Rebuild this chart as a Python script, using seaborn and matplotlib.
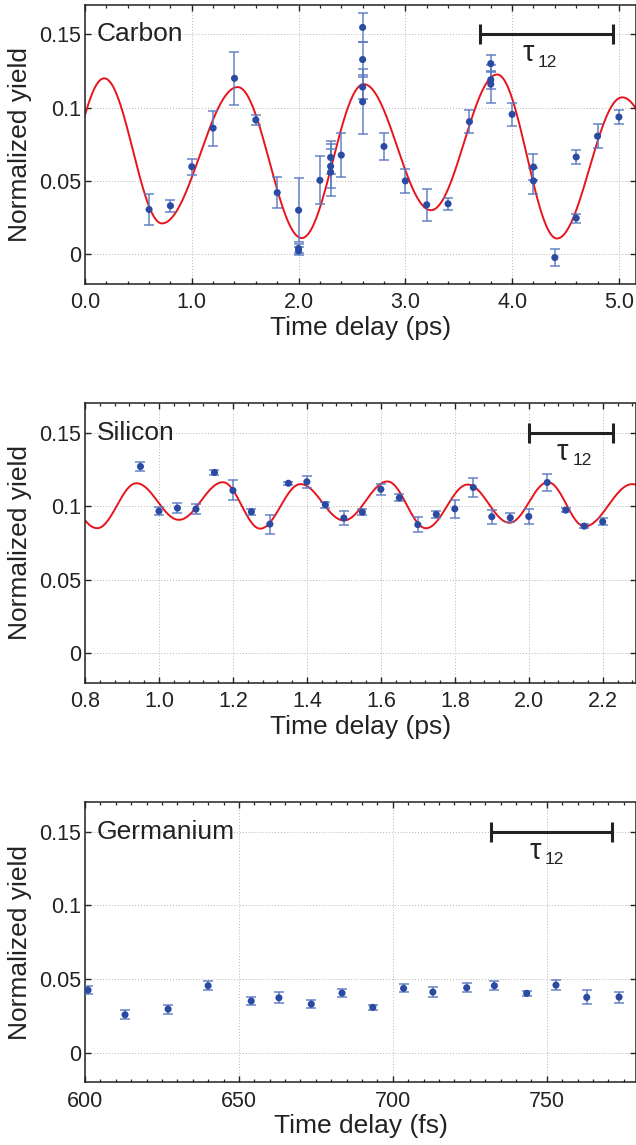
import numpy as np
import pandas as pd
import matplotlib
matplotlib.use("Agg")
import matplotlib.pyplot as plt
from matplotlib.ticker import MultipleLocator
import seaborn as sns

sns.set_theme(style="white")
plt.rcParams['font.family'] = ['Liberation Sans', 'DejaVu Sans']

#----------------------------------
# Data
#----------------------------------
# Carbon (ps)
carbon_t = [0.6, 0.8, 1.0, 1.2, 1.4, 1.6, 1.8, 2.0, 2.0, 2.0, 2.2, 2.3, 2.3, 2.3, 2.4,
            2.6, 2.6, 2.6, 2.6, 2.8, 3.0, 3.2, 3.4, 3.6, 3.8, 3.8, 3.8, 4.0, 4.2, 4.2,
            4.4, 4.6, 4.6, 4.8, 5.0]
carbon_y = [0.0305, 0.033, 0.0597, 0.086, 0.120, 0.0916, 0.042, 0.030, 0.0039, 0.0022,
            0.0504, 0.066, 0.060, 0.056, 0.0676, 0.1547, 0.1328, 0.114, 0.104, 0.0735,
            0.050, 0.0337, 0.0344, 0.0904, 0.130, 0.119, 0.116, 0.0954, 0.0595, 0.050,
            -0.0023, 0.0663, 0.0246, 0.0805, 0.0936]
carbon_err = [0.0105, 0.004, 0.0055, 0.012, 0.018, 0.0035, 0.0105, 0.022, 0.003, 0.003,
              0.0165, 0.011, 0.015, 0.016, 0.015, 0.010, 0.012, 0.008, 0.022, 0.0095,
              0.008, 0.011, 0.004, 0.008, 0.006, 0.006, 0.013, 0.008, 0.009, 0.009,
              0.0055, 0.005, 0.003, 0.008, 0.0047]
# fit curve extrema (time, value)
carbon_fit_t = [-0.36, 0.18, 0.72, 1.43, 2.03, 2.61, 3.24, 3.86, 4.42, 5.03, 5.62]
carbon_fit_y = [0.020, 0.120, 0.021, 0.114, 0.011, 0.116, 0.030, 0.1226, 0.0107, 0.107, 0.040]

# Silicon (ps)
silicon_t = [0.95, 1.0, 1.05, 1.1, 1.15, 1.2, 1.25, 1.3, 1.35, 1.4, 1.45, 1.5, 1.55,
             1.6, 1.65, 1.7, 1.75, 1.8, 1.85, 1.9, 1.95, 2.0, 2.05, 2.1, 2.15, 2.2]
silicon_y = [0.127, 0.0966, 0.0987, 0.098, 0.1229, 0.1107, 0.0962, 0.0878, 0.1156,
             0.1166, 0.101, 0.0919, 0.0959, 0.1115, 0.1057, 0.0874, 0.0944, 0.0982,
             0.1127, 0.0928, 0.0921, 0.093, 0.1161, 0.0973, 0.0864, 0.0894]
silicon_err = [0.003, 0.0027, 0.0035, 0.0034, 0.0015, 0.0068, 0.002, 0.0065, 0.001,
               0.004, 0.002, 0.0045, 0.002, 0.0036, 0.0023, 0.0053, 0.0025, 0.006,
               0.0063, 0.0048, 0.003, 0.005, 0.0057, 0.0013, 0.0012, 0.0025]
silicon_fit_t = [0.715, 0.833, 0.939, 1.054, 1.173, 1.274, 1.383, 1.50, 1.618, 1.722,
                 1.835, 1.948, 2.052, 2.151, 2.28, 2.39]
silicon_fit_y = [0.115, 0.085, 0.1156, 0.0907, 0.1163, 0.0847, 0.115, 0.0903, 0.1168,
                 0.085, 0.1147, 0.0887, 0.1163, 0.0862, 0.115, 0.090]

# Germanium (fs)
germanium_t = [601, 613, 627, 640, 654, 663, 673.5, 683.5, 693.5, 703.5, 713, 724, 733,
               743.5, 753, 763, 773.5]
germanium_y = [0.0425, 0.0258, 0.0296, 0.0455, 0.0351, 0.0373, 0.033, 0.0405, 0.0308,
               0.0437, 0.0412, 0.0441, 0.0455, 0.0403, 0.0459, 0.0376, 0.0378]
germanium_err = [0.0026, 0.003, 0.003, 0.003, 0.0025, 0.0037, 0.0025, 0.003, 0.0018,
                 0.0028, 0.0034, 0.003, 0.003, 0.0019, 0.0035, 0.0048, 0.0037]

# tau_12 bars (start, end) and label x
tau_bars = {'Carbon': (3.70, 4.94, 4.10),
            'Silicon': (2.0, 2.228, 2.076),
            'Germanium': (731.9, 771.2, 744.5)}

DOT = '#2b4ba3'
ERR = '#5a78c0'
RED = '#e8141c'


def smooth_through(ext_t, ext_y, t):
    # half-cosine segments between consecutive extrema of the fit
    ext_t = np.asarray(ext_t)
    ext_y = np.asarray(ext_y)
    i = np.clip(np.searchsorted(ext_t, t) - 1, 0, len(ext_t) - 2)
    f = (t - ext_t[i]) / (ext_t[i + 1] - ext_t[i])
    return ext_y[i] + (ext_y[i + 1] - ext_y[i]) * (1 - np.cos(np.pi * f)) / 2


def draw_panel(ax, name, t, y, err, xlim, xmajor, xminor, xfmt, xlabel, fit=None):
    ax.grid(True, which='major', linestyle=(0, (1, 2)), color='#b4b4b4', lw=0.7)
    if fit is not None:
        tt = np.linspace(xlim[0], xlim[1], 800)
        curve = pd.DataFrame({'t': tt, 'y': smooth_through(fit[0], fit[1], tt)})
        sns.lineplot(data=curve, x='t', y='y', color=RED, lw=1.4, ax=ax, zorder=2)
    ax.errorbar(t, y, yerr=err, fmt='none', ecolor=ERR, elinewidth=1.2,
                capsize=3.8, capthick=1.2, alpha=0.85, zorder=3)
    pts = pd.DataFrame({'t': t, 'y': y})
    sns.scatterplot(data=pts, x='t', y='y', color=DOT, s=26, edgecolor='none',
                    ax=ax, zorder=4, clip_on=False)

    x0, x1, xt = tau_bars[name]
    ax.errorbar([(x0 + x1) / 2], [0.15], xerr=[(x1 - x0) / 2], fmt='none',
                ecolor='#222222', elinewidth=2.2, capsize=7, capthick=2.2, zorder=5)
    ax.annotate('τ', (xt, 0.1317), fontsize=21, color='#222222', ha='left', va='baseline')
    ax.annotate('12', (xt, 0.1317), xytext=(11, -4), textcoords='offset points',
                fontsize=12.5, color='#222222', ha='left', va='baseline')
    ax.text(0.022, (0.15 + 0.02) / 0.19, name, transform=ax.transAxes,
            fontsize=19, color='#222222', ha='left', va='center')

    ax.set_xlim(*xlim)
    ax.set_ylim(-0.02, 0.17)
    ax.xaxis.set_major_locator(MultipleLocator(xmajor))
    ax.xaxis.set_minor_locator(MultipleLocator(xminor))
    ax.set_yticks([0, 0.05, 0.1, 0.15])
    ax.set_yticklabels(['0', '0.05', '0.1', '0.15'])
    ax.xaxis.set_major_formatter(xfmt)
    ax.tick_params(which='both', direction='in', bottom=True, left=True, top=True,
                   right=True, labelsize=15.5, colors='#222222')
    ax.tick_params(axis='y', which='minor', left=False, right=False)
    ax.tick_params(which='major', length=4.5, width=1)
    ax.tick_params(which='minor', length=2.5, width=0.9)
    ax.tick_params(axis='x', pad=6)
    ax.tick_params(axis='y', pad=3)
    ax.set_xlabel(xlabel, fontsize=19, color='#222222', labelpad=2)
    ax.set_ylabel('Normalized yield', fontsize=19, color='#222222', labelpad=5)
    for sp in ax.spines.values():
        sp.set_color('#222222')
        sp.set_linewidth(1.1)


fig = plt.figure(figsize=(6.36, 11.45), dpi=100)
left, width = 85 / 636, 551 / 636
ax1 = fig.add_axes([left, 1 - 283.5 / 1145, width, 278.5 / 1145])
ax2 = fig.add_axes([left, 1 - 682.5 / 1145, width, 279.2 / 1145])
ax3 = fig.add_axes([left, 1 - 1082.2 / 1145, width, 279.9 / 1145])

draw_panel(ax1, 'Carbon', carbon_t, carbon_y, carbon_err, (0.0, 5.16), 1.0, 0.2,
           '{x:.1f}', 'Time delay (ps)', fit=(carbon_fit_t, carbon_fit_y))
draw_panel(ax2, 'Silicon', silicon_t, silicon_y, silicon_err, (0.8, 2.29), 0.2, 0.04,
           '{x:.1f}', 'Time delay (ps)', fit=(silicon_fit_t, silicon_fit_y))
draw_panel(ax3, 'Germanium', germanium_t, germanium_y, germanium_err, (600, 779), 50, 5,
           '{x:.0f}', 'Time delay (fs)')

fig.savefig('out.png', dpi=100)
